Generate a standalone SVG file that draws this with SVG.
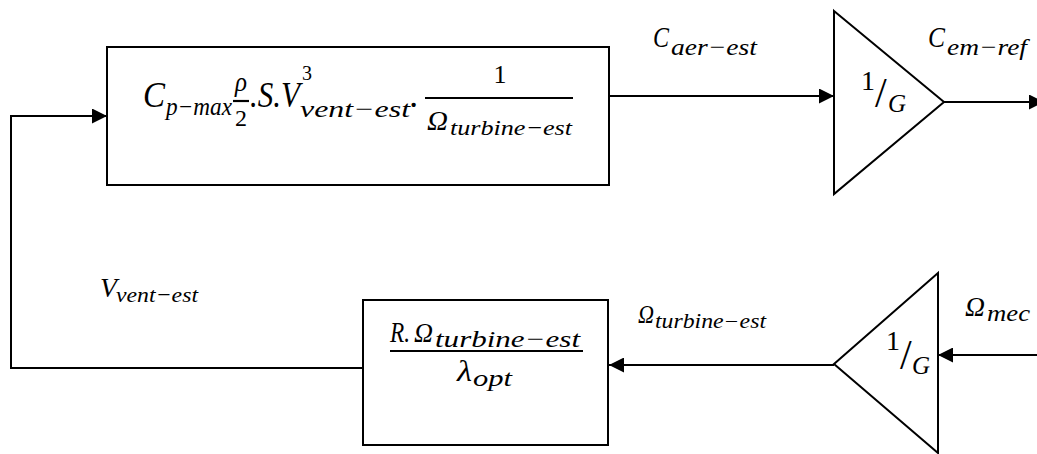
<svg xmlns="http://www.w3.org/2000/svg" width="1037" height="454" viewBox="0 0 1037 454">
<style>
.m{font-family:"Liberation Serif","DejaVu Serif",serif;font-style:italic;fill:#000}
.u{font-family:"Liberation Serif","DejaVu Serif",serif;font-style:normal;fill:#000}
.box{fill:none;stroke:#000;stroke-width:2}
.tri{fill:#fff;stroke:#000;stroke-width:2;stroke-linejoin:miter}
.ln{fill:none;stroke:#000;stroke-width:2}
.bar{stroke:#000;stroke-width:2.2}
</style>
<defs>
<marker id="ah" viewBox="0 0 10 10" refX="10" refY="5" markerUnits="userSpaceOnUse" markerWidth="15" markerHeight="15" orient="auto">
<path d="M0,0 L10,5 L0,10 z" fill="#000"/>
</marker>
</defs>
<rect width="1037" height="454" fill="#fff"/>

<g id="connectors">
<line class="ln" x1="609" y1="96" x2="834" y2="96" marker-end="url(#ah)"/>
<line class="ln" x1="944" y1="102" x2="1044" y2="102" marker-end="url(#ah)"/>
<line class="ln" x1="1040" y1="355" x2="938" y2="355" marker-end="url(#ah)"/>
<line class="ln" x1="834" y1="365" x2="609" y2="365" marker-end="url(#ah)"/>
<polyline class="ln" points="363,368 11,368 11,116 107,116" marker-end="url(#ah)"/>
</g>

<g id="node-power">
<rect class="box" x="107" y="47" width="502" height="138"/>
<text class="m"><tspan x="143" y="107" font-size="36" textLength="22" lengthAdjust="spacingAndGlyphs">C</tspan><tspan x="166" y="115" font-size="25" textLength="66" lengthAdjust="spacingAndGlyphs">p−max</tspan></text>
<text class="m" x="235" y="91" font-size="28" textLength="12" lengthAdjust="spacingAndGlyphs">ρ</text>
<line class="bar" x1="233" y1="101" x2="249" y2="101"/>
<text class="u" x="241" y="126" font-size="24" text-anchor="middle">2</text>
<text class="m"><tspan x="250" y="107" font-size="36" textLength="50" lengthAdjust="spacingAndGlyphs">.S.V</tspan><tspan x="302" y="80" font-size="20" style="font-style:normal">3</tspan><tspan x="300" y="117" font-size="24" textLength="110" lengthAdjust="spacingAndGlyphs">vent−est</tspan><tspan x="410" y="107" font-size="36">.</tspan></text>
<text class="u" x="500" y="83" font-size="26" text-anchor="middle">1</text>
<line class="bar" x1="425" y1="98" x2="573" y2="98"/>
<text class="m"><tspan x="427" y="130" font-size="27" textLength="21" lengthAdjust="spacingAndGlyphs">Ω</tspan><tspan x="450" y="135" font-size="22" textLength="122" lengthAdjust="spacingAndGlyphs">turbine−est</tspan></text>
</g>

<g id="node-gain-top">
<polygon class="tri" points="834,11 944,102 834,194"/>
<text class="u"><tspan x="861" y="90" font-size="28">1</tspan><tspan x="875" y="107" font-size="42">/</tspan><tspan x="888" y="112" font-size="25" style="font-style:italic">G</tspan></text>
</g>

<g id="node-speed">
<rect class="box" x="363" y="300" width="245" height="145"/>
<text class="m"><tspan x="390" y="342" font-size="30" textLength="20" lengthAdjust="spacingAndGlyphs">R.</tspan><tspan x="414" y="342" font-size="28" textLength="19" lengthAdjust="spacingAndGlyphs">Ω</tspan><tspan x="435" y="347" font-size="24" textLength="145" lengthAdjust="spacingAndGlyphs">turbine−est</tspan></text>
<line class="bar" x1="390" y1="351" x2="583" y2="351"/>
<text class="m"><tspan x="457" y="381" font-size="30" textLength="15" lengthAdjust="spacingAndGlyphs">λ</tspan><tspan x="473" y="386" font-size="24" textLength="39" lengthAdjust="spacingAndGlyphs">opt</tspan></text>
</g>

<g id="node-gain-bottom">
<polygon class="tri" points="938,273 834,364 938,453"/>
<text class="u"><tspan x="886" y="350" font-size="28">1</tspan><tspan x="900" y="369" font-size="42">/</tspan><tspan x="912" y="374" font-size="25" style="font-style:italic">G</tspan></text>
</g>

<g id="labels">
<text class="m"><tspan x="653" y="47" font-size="30" textLength="16" lengthAdjust="spacingAndGlyphs">C</tspan><tspan x="671" y="55" font-size="24" textLength="86" lengthAdjust="spacingAndGlyphs">aer−est</tspan></text>
<text class="m"><tspan x="928" y="47" font-size="30" textLength="17" lengthAdjust="spacingAndGlyphs">C</tspan><tspan x="947" y="55" font-size="24" textLength="80" lengthAdjust="spacingAndGlyphs">em−ref</tspan></text>
<text class="m"><tspan x="100" y="297" font-size="28" textLength="17" lengthAdjust="spacingAndGlyphs">V</tspan><tspan x="116" y="302" font-size="22" textLength="82" lengthAdjust="spacingAndGlyphs">vent−est</tspan></text>
<text class="m"><tspan x="638" y="323" font-size="25" textLength="16" lengthAdjust="spacingAndGlyphs">Ω</tspan><tspan x="655" y="328" font-size="20" textLength="111" lengthAdjust="spacingAndGlyphs">turbine−est</tspan></text>
<text class="m"><tspan x="965" y="316" font-size="28" textLength="20" lengthAdjust="spacingAndGlyphs">Ω</tspan><tspan x="987" y="321" font-size="23" textLength="43" lengthAdjust="spacingAndGlyphs">mec</tspan></text>
</g>
</svg>
